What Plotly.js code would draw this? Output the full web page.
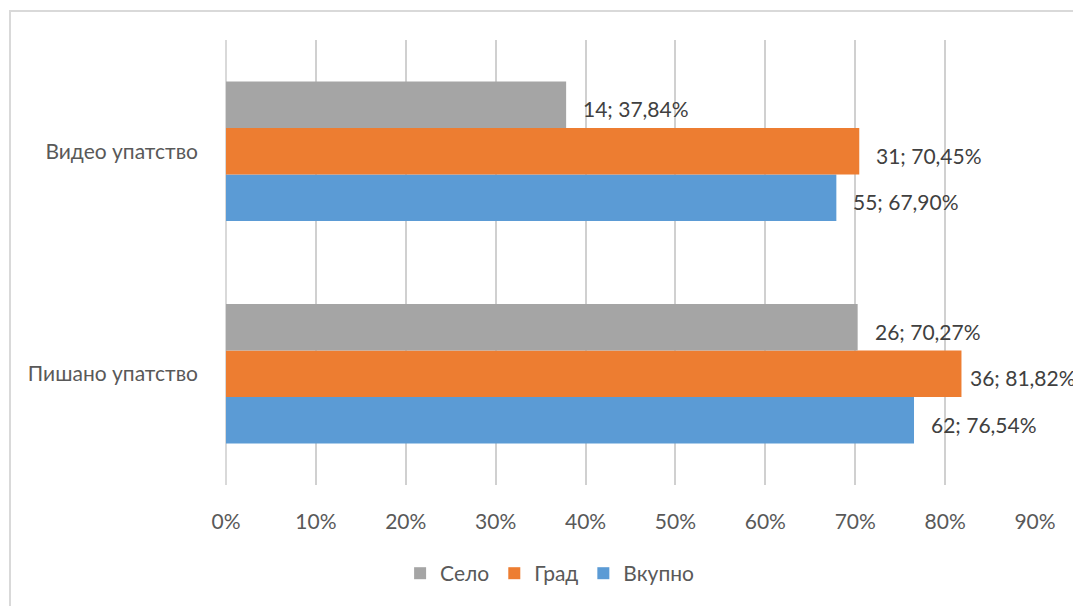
<!DOCTYPE html>
<html>
<head>
<meta charset="utf-8">
<script src="https://cdn.plot.ly/plotly-3.0.1.min.js"></script>
<style>
  html, body { margin: 0; padding: 0; background: #fff; overflow: hidden; }
  #wrap { position: relative; width: 1073px; height: 606px; }
  #chart { position: absolute; left: 0; top: 0; width: 1073px; height: 606px; }
  #frame { position: absolute; left: 9px; top: 10px; width: 1200px; height: 700px;
           border-left: 2px solid #d9d9d9; border-top: 2px solid #d9d9d9; pointer-events: none; }
</style>
</head>
<body>
<div id="wrap">
  <div id="chart"></div>
  <div id="frame"></div>
</div>
<script>
// Categories (bottom to top on the axis)
const categories = ['Пишано упатство', 'Видео упатство'];

// Series: percentages and counts per category (same order as categories)
const seriesNames = ['Вкупно', 'Град', 'Село'];
const seriesColors = ['#5b9bd5', '#ed7d31', '#a5a5a5'];
const vkupnoPct = [76.54, 67.90];
const vkupnoN   = [62, 55];
const gradPct   = [81.82, 70.45];
const gradN     = [36, 31];
const seloPct   = [70.27, 37.84];
const seloN     = [26, 14];

const xTickVals = [0, 10, 20, 30, 40, 50, 60, 70, 80, 90];

const pctList = [vkupnoPct, gradPct, seloPct];
const nList = [vkupnoN, gradN, seloN];

const bargap = 0.374;
const fontFamily = 'Lato, "Open Sans", sans-serif';
const fs = 21;

function fmtLabel(n, p) {
  return n + '; ' + p.toFixed(2).replace('.', ',') + '%';
}

const traces = seriesNames.map((name, i) => ({
  type: 'bar',
  orientation: 'h',
  name: name,
  y: categories,
  x: pctList[i],
  marker: { color: seriesColors[i] },
  hoverinfo: 'skip'
}));

// Data labels as annotations placed at each bar end
const nTr = seriesNames.length;
const w = (1 - bargap) / nTr;
const annotations = [];
for (let i = 0; i < nTr; i++) {
  for (let c = 0; c < categories.length; c++) {
    const v = pctList[i][c];
    annotations.push({
      x: v,
      y: c - (1 - bargap) / 2 + w * (i + 0.5),
      xref: 'x', yref: 'y',
      text: fmtLabel(nList[i][c], v),
      showarrow: false,
      xanchor: 'left', yanchor: 'middle',
      xshift: v > 80 ? 7 : 15, yshift: -4,
      font: { family: fontFamily, size: fs, color: '#404040' }
    });
  }
}

const layout = {
  width: 1073, height: 606,
  margin: { l: 226, r: 38, t: 40, b: 119 },
  paper_bgcolor: '#ffffff',
  plot_bgcolor: '#ffffff',
  barmode: 'group',
  bargap: bargap,
  bargroupgap: 0,
  showlegend: true,
  legend: {
    orientation: 'h', traceorder: 'reversed',
    x: 0.400, xanchor: 'center', y: -0.199, yanchor: 'middle',
    font: { family: fontFamily, size: fs, color: '#595959' }
  },
  xaxis: {
    range: [0, 90],
    tickvals: xTickVals,
    ticktext: xTickVals.map(v => v + '%'),
    showgrid: true, gridcolor: '#d0d0d0', gridwidth: 2,
    zeroline: true, zerolinecolor: '#d9d9d9', zerolinewidth: 2,
    showline: false, ticks: '',
    ticklabelstandoff: 22,
    tickfont: { family: fontFamily, size: fs, color: '#595959' },
    fixedrange: true
  },
  yaxis: {
    type: 'category',
    categoryorder: 'array', categoryarray: categories,
    showgrid: false, zeroline: false, showline: false, ticks: '',
    ticklabelstandoff: 27,
    tickfont: { family: fontFamily, size: fs, color: '#595959' },
    fixedrange: true
  },
  annotations: annotations
};

Plotly.newPlot('chart', traces, layout, { displayModeBar: false, staticPlot: true });
</script>
</body>
</html>
